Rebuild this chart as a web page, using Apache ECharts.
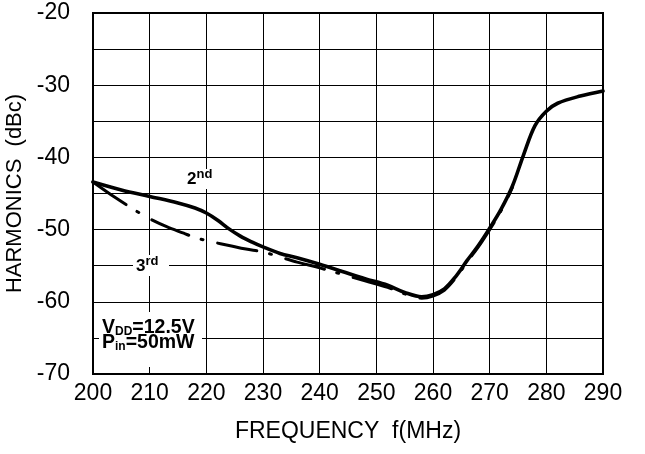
<!DOCTYPE html>
<html>
<head>
<meta charset="utf-8">
<script src="https://cdn.jsdelivr.net/npm/echarts@6/dist/echarts.min.js"></script>
<style>
html,body{margin:0;padding:0;background:#fff;}
#chart{width:645px;height:454px;}
</style>
</head>
<body>
<div id="chart"></div>
<script>
// 2nd harmonic (solid)
var freq2 = [200, 205, 210, 215, 218, 220, 222, 224, 226, 228, 230, 233, 236, 240, 244, 248, 252, 255, 258, 260, 262, 264, 266, 268, 270, 272, 274, 276, 278, 280, 282, 286, 290];
var harm2 = [-43.4, -44.5, -45.4, -46.3, -47.0, -47.7, -48.7, -49.9, -50.9, -51.7, -52.4, -53.3, -53.9, -54.8, -55.8, -56.8, -57.7, -58.7, -59.3, -59.0, -58.2, -56.5, -54.3, -52.2, -49.8, -47.2, -44.0, -39.6, -35.6, -33.6, -32.5, -31.5, -30.8];
// 3rd harmonic (dash-dot)
var freq3 = [200, 204, 208, 210, 213, 216, 218, 221, 224, 227, 230, 233, 236, 240, 244, 248, 252, 255, 258, 260, 262, 264, 266, 268, 270, 272, 274];
var harm3 = [-43.4, -45.6, -47.6, -48.5, -49.6, -50.5, -51.1, -51.7, -52.2, -52.7, -53.1, -53.8, -54.5, -55.3, -56.2, -57.1, -58.0, -58.9, -59.5, -59.2, -58.4, -56.7, -54.5, -52.4, -50.0, -47.4, -44.2];
// axis ticks
var xTicks = {min: 200, max: 290, step: 10};
var yTicks = {min: -70, max: -20, step: 5, labelStep: 10};

function pairs(xs, ys) { return xs.map(function (x, i) { return [x, ys[i]]; }); }

var chart = echarts.init(document.getElementById('chart'), null, {renderer: 'canvas'});
var FONT = 'Liberation Sans, Arial, sans-serif';
var supRich = {
  b: {fontFamily: FONT, fontSize: 17, fontWeight: 'bold', fill: '#000', verticalAlign: 'bottom', lineHeight: 20},
  s: {fontFamily: FONT, fontSize: 13, fontWeight: 'bold', fill: '#000', verticalAlign: 'top', lineHeight: 14}
};
var subRich = {
  b: {fontFamily: FONT, fontSize: 19.5, fontWeight: 'bold', fill: '#000', lineHeight: 20, verticalAlign: 'bottom'},
  sub: {fontFamily: FONT, fontSize: 12, fontWeight: 'bold', fill: '#000', lineHeight: 20, verticalAlign: 'bottom'}
};
var option = {
  animation: false,
  backgroundColor: '#fff',
  grid: {left: 93, right: 42, top: 13, bottom: 80, show: true, borderColor: '#000', borderWidth: 2,
    backgroundColor: 'transparent', containLabel: false, outerBoundsMode: 'none'},
  xAxis: {
    type: 'value', min: xTicks.min, max: xTicks.max, interval: xTicks.step,
    name: 'FREQUENCY  f(MHz)', nameLocation: 'middle', nameGap: 46,
    nameTextStyle: {fontFamily: FONT, fontSize: 23, color: '#000'},
    axisLine: {show: true, lineStyle: {color: '#000', width: 2}},
    axisTick: {show: false},
    axisLabel: {fontFamily: FONT, fontSize: 23, color: '#000', margin: 8},
    splitLine: {show: true, lineStyle: {color: '#000', width: 1}}
  },
  yAxis: {
    type: 'value', min: yTicks.min, max: yTicks.max, interval: yTicks.step,
    name: 'HARMONICS  (dBc)', nameLocation: 'middle', nameGap: 64, nameRotate: 90,
    nameTextStyle: {fontFamily: FONT, fontSize: 22, color: '#000'},
    axisLine: {show: true, lineStyle: {color: '#000', width: 2}},
    axisTick: {show: false},
    axisLabel: {fontFamily: FONT, fontSize: 23, color: '#000', margin: 23,
      formatter: function (v) { return (Math.round(v) % yTicks.labelStep === 0) ? String(v) : ''; }},
    splitLine: {show: true, lineStyle: {color: '#000', width: 1}}
  },
  series: [
    {
      name: '2nd', type: 'line', data: pairs(freq2, harm2), smooth: 0.35, showSymbol: false, symbol: 'none',
      lineStyle: {color: '#000', width: 3.6, cap: 'round', join: 'round'}, z: 3
    },
    {
      name: '3rd', type: 'line', data: pairs(freq3, harm3), smooth: 0.35, showSymbol: false, symbol: 'none',
      lineStyle: {color: '#000', width: 3, type: [40, 13, 2, 15], dashOffset: 0, cap: 'round', join: 'round'}, z: 4
    }
  ],
  graphic: [
    {type: 'rect', left: 186, top: 169, shape: {width: 32, height: 20}, style: {fill: '#fff'}, z: 10},
    {type: 'text', left: 187, top: 168, z: 11, style: {text: '{b|2}{s|nd}', rich: supRich}},
    {type: 'rect', left: 133, top: 255, shape: {width: 36, height: 21}, style: {fill: '#fff'}, z: 10},
    {type: 'text', left: 136, top: 255, z: 11, style: {text: '{b|3}{s|rd}', rich: supRich}},
    {type: 'rect', left: 99, top: 312, shape: {width: 103, height: 55}, style: {fill: '#fff'}, z: 10},
    {type: 'text', left: 102, top: 318, z: 11, style: {text: '{b|V}{sub|DD}{b|=12.5V}', rich: subRich}},
    {type: 'text', left: 102, top: 333, z: 11, style: {text: '{b|P}{sub|in}{b|=50mW}', rich: subRich}}
  ]
};
chart.setOption(option);
</script>
</body>
</html>
